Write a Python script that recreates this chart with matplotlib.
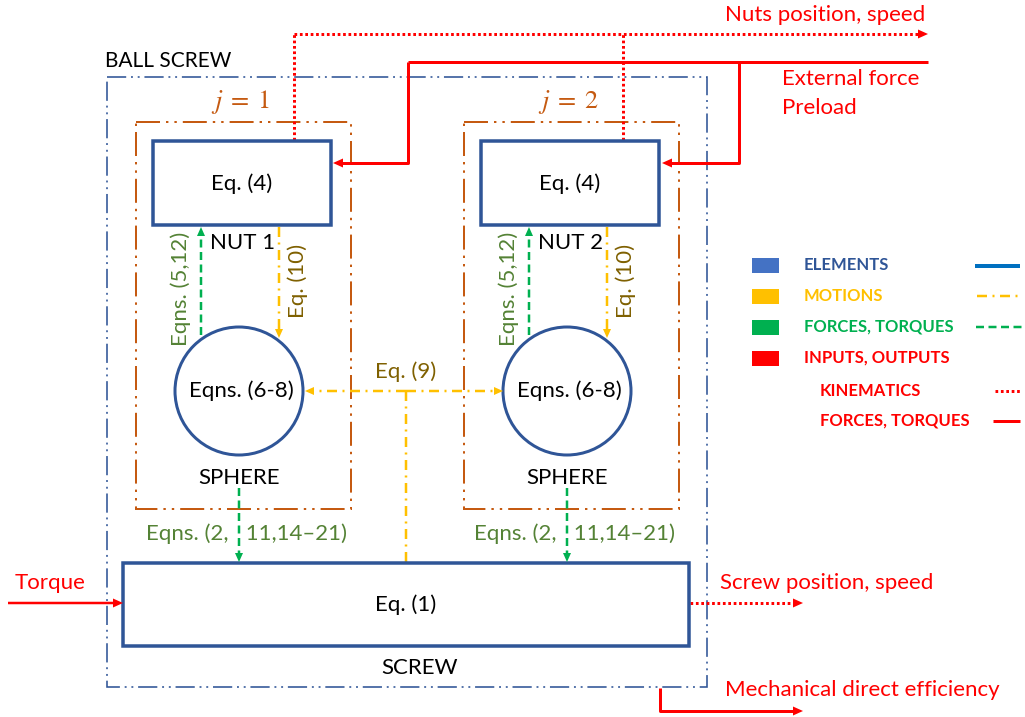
import matplotlib.pyplot as plt
from matplotlib.patches import Rectangle, Circle, Polygon

plt.rcParams['font.family'] = ['Lato', 'DejaVu Sans']
plt.rcParams['mathtext.fontset'] = 'stix'

# colours
BLUE = '#2F5597'
ORANGE = '#C55A11'
YELLOW = '#FFC000'
GREEN = '#00B050'
RED = '#FF0000'
OLIVE = '#7F6000'
DKGREEN = '#548235'

# texts
nut_labels = ['NUT 1', 'NUT 2']
loop_labels = [r'$j\;=\;1$', r'$j\;=\;2$']
nut_eq = 'Eq. (4)'
sphere_eq = 'Eqns. (6-8)'
force_up = 'Eqns. (5,12)'
motion_down = 'Eq. (10)'
contact_eq = 'Eqns. (2,   11,14\u201321)'
legend_labels = ['ELEMENTS', 'MOTIONS', 'FORCES, TORQUES', 'INPUTS, OUTPUTS']
legend_text_colors = [BLUE, YELLOW, GREEN, RED]
legend_box_colors = ['#4472C4', YELLOW, GREEN, RED]
sub_labels = ['KINEMATICS', 'FORCES, TORQUES']

PX = 0.72  # px -> pt at 100 dpi
FS = 16
LFS = 12

fig = plt.figure(figsize=(10.25, 7.17), dpi=100)
ax = fig.add_axes([0, 0, 1, 1])
ax.set_xlim(0, 1025)
ax.set_ylim(717, 0)
ax.axis('off')

DASHDOTDOT = (0, (12, 3, 1.2, 3, 1.2, 3))
DASHDOT = (0, (4, 2.2, 0.8, 2.2))
DASHED = (0, (3.2, 1.8))
DOTTED = (0, (0.9, 0.9))


def head(x, y, dx, dy, color, L=10, W=4.5):
    px, py = -dy, dx
    pts = [(x, y), (x - dx * L + px * W, y - dy * L + py * W),
           (x - dx * L - px * W, y - dy * L - py * W)]
    ax.add_patch(Polygon(pts, closed=True, color=color, lw=0, zorder=5))


def line(xs, ys, color, ls='-', lw=3):
    ax.plot(xs, ys, color=color, ls=ls, lw=lw * PX, solid_capstyle='butt',
            dash_capstyle='butt', zorder=3)


def arrow(xs, ys, color, ls='-', lw=3, L=10, W=4.5):
    dx = xs[-1] - xs[-2]
    dy = ys[-1] - ys[-2]
    n = (dx ** 2 + dy ** 2) ** 0.5
    dx, dy = dx / n, dy / n
    line(xs[:-1] + [xs[-1] - dx * L * 0.8], ys[:-1] + [ys[-1] - dy * L * 0.8], color, ls, lw)
    head(xs[-1], ys[-1], dx, dy, color, L, W)


# outer ball screw frame
ax.add_patch(Rectangle((107, 77), 600, 610, fill=False, ec=BLUE, lw=1.6 * PX,
                       ls=DASHDOTDOT, zorder=2))
ax.text(105, 61, 'BALL SCREW', fontsize=15, ha='left', va='center', color='black')

for k, off in enumerate([0, 328]):
    # j loop frame
    ax.add_patch(Rectangle((136 + off, 122), 215, 387, fill=False, ec=ORANGE,
                           lw=2 * PX, ls=DASHDOTDOT, zorder=2))
    ax.text(241 + off, 102, loop_labels[k], fontsize=19, ha='center', va='center',
            color=ORANGE)
    # nut box
    ax.add_patch(Rectangle((153 + off, 141), 178, 84, fill=False, ec=BLUE,
                           lw=3.5 * PX, zorder=4))
    ax.text(242 + off, 184, nut_eq, fontsize=FS, ha='center', va='center')
    ax.text(243 + off, 243, nut_labels[k], fontsize=FS, ha='center', va='center')
    # sphere
    ax.add_patch(Circle((239 + off, 391), 64, fill=False, ec=BLUE, lw=3 * PX, zorder=4))
    ax.text(241 + off, 391, sphere_eq, fontsize=FS, ha='center', va='center')
    ax.text(239 + off, 478, 'SPHERE', fontsize=FS, ha='center', va='center')
    # sphere -> nut forces
    arrow([201 + off, 201 + off], [335, 227], GREEN, DASHED, 2.5, L=9, W=4)
    ax.text(181 + off, 289, force_up, fontsize=FS, ha='center', va='center',
            rotation=90, color=DKGREEN)
    # nut -> sphere motion
    arrow([279 + off, 279 + off], [227, 338], YELLOW, DASHDOT, 2.5, L=9, W=4)
    ax.text(298 + off, 281, motion_down, fontsize=FS, ha='center', va='center',
            rotation=90, color=OLIVE)
    # sphere -> screw forces
    ax.text(246 + off, 534, contact_eq, fontsize=FS, ha='center', va='center',
            color=DKGREEN)
    arrow([239 + off, 239 + off], [488, 562], GREEN, DASHED, 2.5, L=9, W=4)

# motion between spheres
arrow([406, 305], [391, 391], YELLOW, DASHDOT, 2.5, L=9, W=4)
arrow([406, 503], [391, 391], YELLOW, DASHDOT, 2.5, L=9, W=4)
line([406, 406], [391, 562], YELLOW, DASHDOT, 2.5)
ax.text(406, 372, 'Eq. (9)', fontsize=FS, ha='center', va='center', color=OLIVE)

# screw
ax.add_patch(Rectangle((123, 563), 566, 83, fill=False, ec=BLUE, lw=3.5 * PX, zorder=4))
ax.text(406, 605, 'Eq. (1)', fontsize=FS, ha='center', va='center')
ax.text(420, 668, 'SCREW', fontsize=FS, ha='center', va='center')

# inputs / outputs
arrow([8, 123], [603, 603], RED, '-', 2.5)
ax.text(50, 583, 'Torque', fontsize=FS, ha='center', va='center', color=RED)
arrow([690, 803], [603, 603], RED, DOTTED, 3)
ax.text(720, 583, 'Screw position, speed', fontsize=FS, ha='left', va='center', color=RED)
arrow([660, 660, 803], [688, 711, 711], RED, '-', 3)
ax.text(725, 690, 'Mechanical direct efficiency', fontsize=FS, ha='left', va='center',
        color=RED)

# nuts kinematics output
line([294, 294], [140, 34], RED, DOTTED, 3)
line([623, 623], [140, 34], RED, DOTTED, 3)
arrow([294, 928], [34, 34], RED, DOTTED, 3)
ax.text(925, 15, 'Nuts position, speed', fontsize=FS, ha='right', va='center', color=RED)

# external force / preload input
line([928, 408], [62, 62], RED, '-', 3)
arrow([408, 408, 333], [62, 163, 163], RED, '-', 3)
arrow([739, 739, 662], [62, 163, 163], RED, '-', 3)
ax.text(782, 79, 'External force', fontsize=FS, ha='left', va='center', color=RED)
ax.text(782, 108, 'Preload', fontsize=FS, ha='left', va='center', color=RED)

# legend
leg_y = [265, 296, 327, 358]
for y, lab, tc, bc in zip(leg_y, legend_labels, legend_text_colors, legend_box_colors):
    ax.add_patch(Rectangle((752, y - 7), 27, 15, color=bc, lw=0))
    ax.text(804, y, lab, fontsize=LFS, fontweight='bold', ha='left', va='center', color=tc)
for y, lab in zip([391, 421], sub_labels):
    ax.text(820, y, lab, fontsize=LFS, fontweight='bold', ha='left', va='center', color=RED)
line([975, 1020], [266, 266], '#0070C0', '-', 4)
line([977, 1022], [296, 296], YELLOW, DASHDOT, 2.5)
line([976, 1022], [327, 327], GREEN, DASHED, 2.5)
line([995, 1020], [391, 391], RED, DOTTED, 3)
line([993, 1020], [421, 421], RED, '-', 3)

fig.savefig('out.png', dpi=100)
